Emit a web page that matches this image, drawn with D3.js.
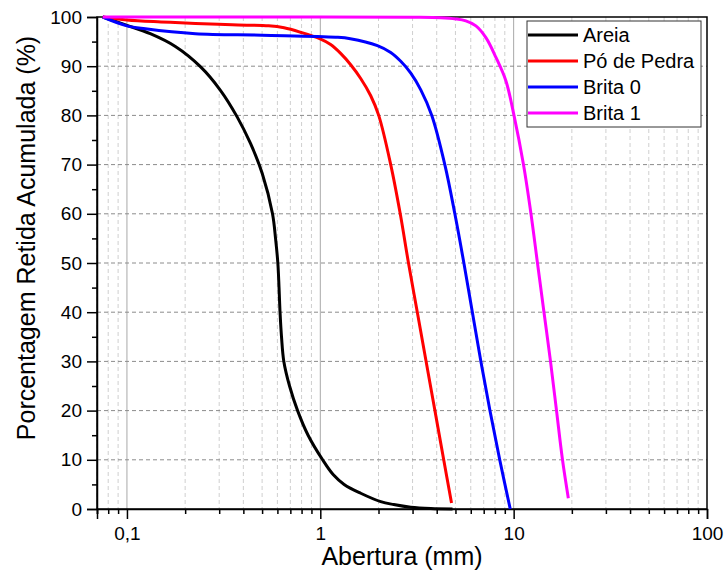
<!DOCTYPE html>
<html>
<head>
<meta charset="utf-8">
<script src="https://cdn.jsdelivr.net/npm/d3@7"></script>
<style>
  body { margin: 0; background: #fff; }
  text { font-family: 'Liberation Sans', Arial, sans-serif; fill: #000; }
</style>
</head>
<body>
<div class="chart"></div>
<script>
'use strict';

// abertura (mm) / % retida acumulada
const areiaX = [0.075, 0.1, 0.132, 0.178, 0.2398, 0.3044, 0.3715, 0.4355, 0.5009, 0.566, 0.5868, 0.6031, 0.6118, 0.6191, 0.6301, 0.6477, 0.6934, 0.763, 0.8646, 1.028, 1.165, 1.328, 1.618, 2.053, 2.398, 2.937, 3.728, 4.83];
const areiaY = [100, 98.3, 96.6, 94.0, 89.9, 85.1, 79.7, 74.3, 68.2, 60, 55, 50, 45, 40, 35, 30, 25, 20, 15, 10, 7, 5, 3.2, 1.5, 0.9, 0.35, 0.08, 0];

const poX = [0.075, 0.1, 0.15, 0.226, 0.35, 0.54, 0.65, 0.791, 0.992, 1.131, 1.274, 1.436, 1.618, 1.823, 2.005, 2.313, 2.591, 2.858, 3.175, 3.526, 3.915, 4.348, 4.772];
const poY = [100, 99.4, 99.0, 98.7, 98.4, 98.2, 97.8, 96.9, 95.6, 94.4, 92.6, 90.3, 87.5, 84.0, 80, 70, 60, 50, 40, 30, 20, 10, 1.2];

const brita0X = [0.075, 0.1, 0.1245, 0.226, 0.5, 1.2, 1.43, 1.974, 2.313, 2.607, 2.937, 3.309, 3.773, 4.406, 4.965, 5.528, 6.116, 6.769, 7.54, 8.472, 9.603];
const brita0Y = [100, 98.2, 97.6, 96.6, 96.3, 95.9, 95.6, 94.2, 92.8, 91.0, 88.6, 85.2, 80, 70, 60, 50, 40, 30, 20, 10, 0];

const brita1X = [0.075, 1, 3, 4.201, 5.023, 5.658, 6.378, 7.186, 8.097, 9.123, 10.04, 11.24, 12.29, 13.28, 14.35, 15.51, 16.66, 17.89, 19.18];
const brita1Y = [100, 100, 99.95, 99.85, 99.6, 99.2, 98.2, 95.8, 91.8, 87, 80, 70, 60, 50, 40, 30, 20, 10, 2.2];

const seriesNames = ['Areia', 'Pó de Pedra', 'Brita 0', 'Brita 1'];
const seriesColors = ['#000000', '#ff0000', '#0000ff', '#ff00ff'];

const yTicks = [0, 10, 20, 30, 40, 50, 60, 70, 80, 90, 100];
const xTicks = [0.1, 1, 10, 100];
const xTickLabels = ['0,1', '1', '10', '100'];

const margin = { top: 17, right: 19, bottom: 69, left: 97 };
const FULL_WIDTH = 726;
const FULL_HEIGHT = 578;
const WIDTH = FULL_WIDTH - margin.left - margin.right;
const HEIGHT = FULL_HEIGHT - margin.top - margin.bottom;

const svg = d3.select('.chart')
  .append('svg')
    .attr('width', FULL_WIDTH)
    .attr('height', FULL_HEIGHT)
  .append('g')
    .attr('transform', 'translate(' + margin.left + ',' + margin.top + ')');

const x = d3.scaleLog().domain([0.07, 100]).range([0, WIDTH]);
const y = d3.scaleLinear().domain([0, 100]).range([HEIGHT, 0]);

// minor positions on the log axis
const minorX = [];
[0.01, 0.1, 1, 10].forEach((dec) => {
  for (let k = 2; k <= 9; k++) {
    const v = +(dec * k).toPrecision(3);
    if (v >= 0.07 && v < 100) minorX.push(v);
  }
});

// grid
svg.selectAll('.xminor')
  .data(minorX)
  .enter()
  .append('line')
    .attr('x1', (d) => x(d)).attr('x2', (d) => x(d))
    .attr('y1', 0).attr('y2', HEIGHT)
    .attr('stroke', '#cfcfcf')
    .attr('stroke-dasharray', '4,3');

svg.selectAll('.xmajor')
  .data([0.1, 1, 10])
  .enter()
  .append('line')
    .attr('x1', (d) => x(d)).attr('x2', (d) => x(d))
    .attr('y1', 0).attr('y2', HEIGHT)
    .attr('stroke', '#a8a8a8');

svg.selectAll('.ygrid')
  .data(yTicks.filter((d) => d > 0 && d < 100))
  .enter()
  .append('line')
    .attr('x1', 0).attr('x2', WIDTH)
    .attr('y1', (d) => y(d)).attr('y2', (d) => y(d))
    .attr('stroke', '#8c8c8c')
    .attr('stroke-dasharray', '4,3');

// frame
svg.append('rect')
  .attr('width', WIDTH)
  .attr('height', HEIGHT)
  .attr('fill', 'none')
  .attr('stroke', '#000')
  .attr('stroke-width', 1.5);

// axes
const yAxis = svg.append('g')
  .call(d3.axisLeft(y).tickValues(yTicks).tickSize(10).tickPadding(5));
yAxis.selectAll('text').attr('font-size', 19).style('font-family', "'Liberation Sans', Arial, sans-serif");
yAxis.select('.domain').attr('stroke-width', 1.5);
yAxis.selectAll('.tick line').attr('stroke-width', 1.5);

svg.append('g')
  .call(d3.axisLeft(y).tickValues(d3.range(5, 100, 10)).tickSize(5).tickFormat(''))
  .call((g) => g.select('.domain').remove())
  .selectAll('.tick line').attr('stroke-width', 1.5);

const xAxis = svg.append('g')
  .attr('transform', 'translate(0,' + HEIGHT + ')')
  .call(d3.axisBottom(x).tickValues(xTicks).tickSize(10).tickPadding(8)
    .tickFormat((d, i) => xTickLabels[i]));
xAxis.selectAll('text').attr('font-size', 19).style('font-family', "'Liberation Sans', Arial, sans-serif");
xAxis.select('.domain').attr('stroke-width', 1.5);
xAxis.selectAll('.tick line').attr('stroke-width', 1.5);

svg.append('g')
  .attr('transform', 'translate(0,' + HEIGHT + ')')
  .call(d3.axisBottom(x).tickValues(minorX.concat([0.07])).tickSize(5).tickFormat(''))
  .call((g) => g.select('.domain').remove())
  .selectAll('.tick line').attr('stroke-width', 1.5);

// axis titles
svg.append('text')
  .attr('x', WIDTH / 2)
  .attr('y', 548)
  .attr('text-anchor', 'middle')
  .attr('font-size', 25)
  .text('Abertura (mm)');

svg.append('text')
  .attr('transform', 'translate(-62,' + 221 + ') rotate(-90)')
  .attr('text-anchor', 'middle')
  .attr('font-size', 25)
  .text('Porcentagem Retida Acumulada (%)');

// curves
const allX = [areiaX, poX, brita0X, brita1X];
const allY = [areiaY, poY, brita0Y, brita1Y];

const line = d3.line()
  .x((d) => x(d[0]))
  .y((d) => y(d[1]))
  .curve(d3.curveCatmullRom.alpha(0.5));

seriesNames.forEach((name, i) => {
  const pts = allX[i].map((v, j) => [v, allY[i][j]]);
  svg.append('path')
    .datum(pts)
    .attr('fill', 'none')
    .attr('stroke', seriesColors[i])
    .attr('stroke-width', 3)
    .attr('d', line);
});

// legend
const legend = svg.append('g')
  .attr('transform', 'translate(' + (527 - margin.left) + ',' + (21 - margin.top) + ')');

legend.append('rect')
  .attr('width', 174)
  .attr('height', 106)
  .attr('fill', '#fff')
  .attr('stroke', '#333')
  .attr('stroke-width', 1);

seriesNames.forEach((name, i) => {
  const cy = 14 + i * 26;
  legend.append('line')
    .attr('x1', 1).attr('x2', 51)
    .attr('y1', cy).attr('y2', cy)
    .attr('stroke', seriesColors[i])
    .attr('stroke-width', 3);
  legend.append('text')
    .attr('x', 56)
    .attr('y', cy + 7)
    .attr('font-size', 20)
    .text(name);
});
</script>
</body>
</html>
